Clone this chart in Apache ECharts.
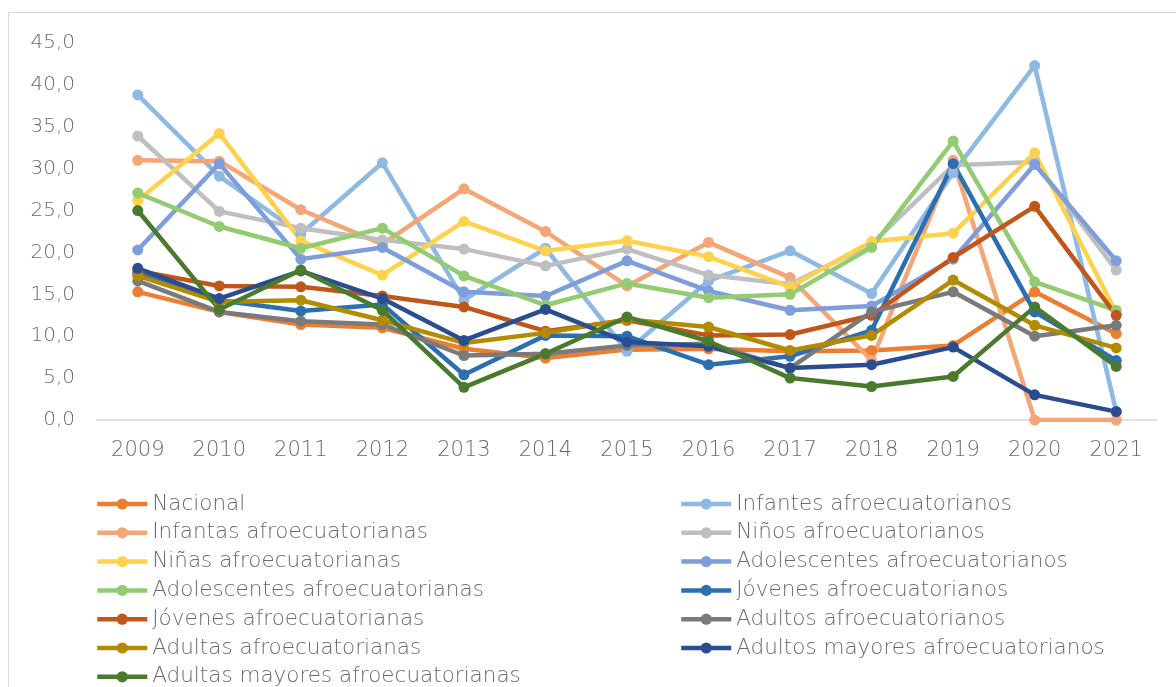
<!DOCTYPE html>
<html>
<head>
<meta charset="utf-8">
<script src="https://cdn.jsdelivr.net/npm/echarts@6/dist/echarts.min.js"></script>
<style>
  html, body { margin: 0; padding: 0; background: #ffffff; }
  #chart { width: 1176px; height: 687px; }
</style>
</head>
<body>
<div id="chart"></div>
<script>
const years = ['2009','2010','2011','2012','2013','2014','2015','2016','2017','2018','2019','2020','2021'];

const nacional            = [15.3, 12.9, 11.4, 11.0, 8.5, 7.4, 8.4, 8.5, 8.2, 8.3, 8.9, 15.3, 10.3];
const infantesAfro        = [38.8, 29.1, 22.2, 30.7, 14.3, 20.5, 8.2, 16.6, 20.2, 15.1, 29.5, 42.3, 1.0];
const infantasAfro        = [31.0, 30.9, 25.1, 21.0, 27.6, 22.5, 16.0, 21.2, 17.0, 7.1, 31.0, 0.0, 0.0];
const ninosAfro           = [33.9, 24.9, 22.9, 21.5, 20.4, 18.4, 20.4, 17.3, 16.2, 21.0, 30.4, 30.8, 17.9];
const ninasAfro           = [26.2, 34.2, 21.4, 17.3, 23.7, 20.2, 21.4, 19.5, 15.9, 21.3, 22.3, 31.9, 12.8];
const adolescentesM       = [20.3, 30.6, 19.2, 20.6, 15.3, 14.8, 19.0, 15.4, 13.1, 13.6, 19.2, 30.5, 19.0];
const adolescentesF       = [27.1, 23.1, 20.5, 22.9, 17.2, 13.7, 16.3, 14.6, 15.0, 20.6, 33.3, 16.5, 13.1];
const jovenesM            = [17.5, 14.3, 13.0, 13.8, 5.4, 10.1, 10.0, 6.6, 7.6, 10.7, 30.6, 12.9, 7.1];
const jovenesF            = [17.8, 16.0, 15.9, 14.8, 13.5, 10.6, 11.9, 10.1, 10.2, 12.5, 19.4, 25.5, 12.5];
const adultosAfro         = [16.6, 12.9, 11.8, 11.4, 7.7, 7.9, 8.9, 9.1, 6.2, 12.9, 15.3, 10.0, 11.3];
const adultasAfro         = [17.2, 14.1, 14.3, 11.9, 9.2, 10.4, 12.0, 11.1, 8.3, 10.1, 16.7, 11.3, 8.6];
const adultosMayoresAfro  = [18.1, 14.5, 17.8, 14.5, 9.5, 13.2, 9.3, 8.8, 6.2, 6.6, 8.7, 3.0, 1.0];
const adultasMayoresAfro  = [25.0, 13.2, 17.9, 13.1, 3.9, 7.9, 12.3, 9.4, 5.0, 4.0, 5.2, 13.5, 6.4];

const seriesNames = [
  'Nacional', 'Infantes afroecuatorianos',
  'Infantas afroecuatorianas', 'Niños afroecuatorianos',
  'Niñas afroecuatorianas', 'Adolescentes afroecuatorianos',
  'Adolescentes afroecuatorianas', 'Jóvenes afroecuatorianos',
  'Jóvenes afroecuatorianas', 'Adultos afroecuatorianos',
  'Adultas afroecuatorianas', 'Adultos mayores afroecuatorianos',
  'Adultas mayores afroecuatorianas'
];
const seriesData = [
  nacional, infantesAfro, infantasAfro, ninosAfro, ninasAfro, adolescentesM,
  adolescentesF, jovenesM, jovenesF, adultosAfro, adultasAfro, adultosMayoresAfro,
  adultasMayoresAfro
];
const seriesColors = [
  '#ED7D31', '#8DB9E3', '#F4A676', '#BFBFBF', '#FFD24D', '#7E9DDB',
  '#92CB72', '#2B6FB3', '#C0561A', '#7A7A7A', '#B38B00', '#2A4D91', '#4A7A2E'
];

const FONT = 'DejaVu Sans';
const TXT = '#6A6A6A';
const WEIGHT = 200;

const chart = echarts.init(document.getElementById('chart'));

const series = seriesNames.map((name, i) => ({
  name: name,
  type: 'line',
  data: seriesData[i],
  symbol: 'circle',
  symbolSize: 11,
  lineStyle: { width: 4.5, color: seriesColors[i] },
  itemStyle: { color: seriesColors[i] },
  emphasis: { disabled: true },
  animation: false
}));

const leftNames = seriesNames.filter((n, i) => i % 2 === 0);
const rightNames = seriesNames.filter((n, i) => i % 2 === 1);

const legendCommon = {
  orient: 'vertical',
  itemWidth: 50,
  itemHeight: 14,
  itemGap: 6.8,
  top: 493,
  height: 240,
  padding: 0,
  lineStyle: { width: 4.5 },
  textStyle: { fontFamily: FONT, fontWeight: WEIGHT, fontSize: 21.5, color: TXT, lineHeight: 22 },
  selectedMode: false
};

chart.setOption({
  backgroundColor: '#ffffff',
  animation: false,
  textStyle: { fontFamily: FONT },
  graphic: [{
    type: 'rect',
    shape: { x: 8.5, y: 12.5, width: 1200, height: 700 },
    style: { fill: 'none', stroke: '#D9D9D9', lineWidth: 1 },
    silent: true,
    z: -10
  }],
  grid: { left: 97, right: 19, top: 43, bottom: 267, containLabel: false },
  legend: [
    Object.assign({}, legendCommon, { left: 95, data: leftNames }),
    Object.assign({}, legendCommon, { left: 679, data: rightNames })
  ],
  xAxis: {
    type: 'category',
    data: years,
    boundaryGap: true,
    axisLine: { lineStyle: { color: '#D9D9D9', width: 1.5 } },
    axisTick: { show: false },
    axisLabel: { fontFamily: FONT, fontWeight: WEIGHT, fontSize: 21, color: TXT, margin: 20 }
  },
  yAxis: {
    type: 'value',
    min: 0,
    max: 45,
    interval: 5,
    splitLine: { show: false },
    axisLine: { show: false },
    axisTick: { show: false },
    axisLabel: {
      fontFamily: FONT, fontWeight: WEIGHT, fontSize: 20, color: TXT, margin: 22,
      formatter: v => v.toFixed(1).replace('.', ',')
    }
  },
  series: series
});
</script>
</body>
</html>
